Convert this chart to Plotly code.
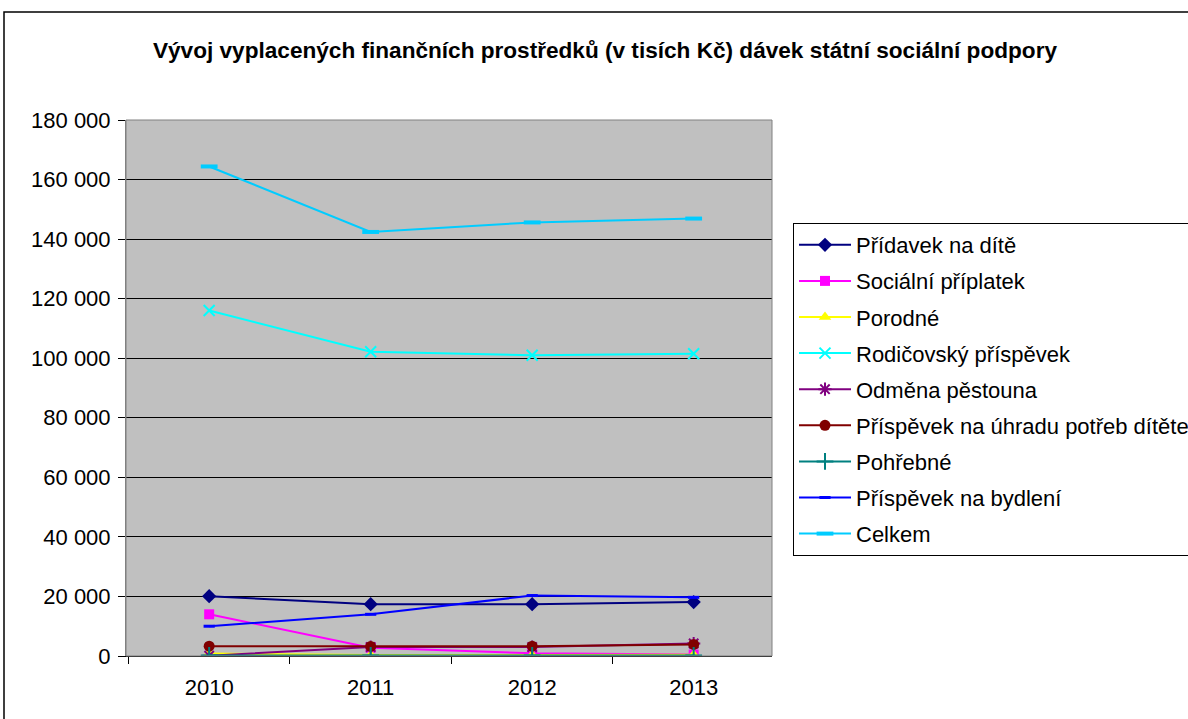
import plotly.graph_objects as go

years = ["2010", "2011", "2012", "2013"]

pridavek = [20100, 17400, 17400, 18100]
socialni = [14000, 2800, 900, 500]
porodne = [800, 300, 300, 400]
rodicovsky = [116000, 102200, 101000, 101500]
odmena = [100, 3000, 3000, 4200]
uhrada = [3300, 3200, 3300, 3900]
pohrebne = [200, 200, 200, 200]
bydleni = [10000, 14000, 20300, 19700]
celkem = [164400, 142400, 145600, 146900]

series = [
    ("Přídavek na dítě", pridavek, "#000080", "diamond", 11, 0),
    ("Sociální příplatek", socialni, "#FF00FF", "square", 10, 0),
    ("Porodné", porodne, "#FFFF00", "triangle-up", 11, 0),
    ("Rodičovský příspěvek", rodicovsky, "#00FFFF", "x-thin-open", 11, 2),
    ("Odměna pěstouna", odmena, "#800080", "asterisk-open", 11, 2),
    ("Příspěvek na úhradu potřeb dítěte", uhrada, "#800000", "circle", 11, 0),
    ("Pohřebné", pohrebne, "#008080", "cross-thin-open", 12, 2),
    ("Příspěvek na bydlení", bydleni, "#0000FF", "line-ew-open", 8, 3),
    ("Celkem", celkem, "#00CCFF", "line-ew-open", 12, 4),
]

fig = go.Figure()
for name, vals, color, sym, size, lw in series:
    marker = dict(symbol=sym, size=size, color=color)
    if lw:
        marker["line"] = dict(color=color, width=lw)
    fig.add_trace(go.Scatter(
        x=years, y=vals, name=name, legendgroup=name, mode="lines+markers",
        line=dict(color=color, width=2), marker=marker,
    ))

L, R, T, B = 126, 772, 120, 656
W, H = 1188, 719
pw, ph = R - L, B - T

def px_x(v):
    return (v - L) / pw

def px_y(v):
    return (B - v) / ph

fig.update_layout(
    width=W, height=H,
    margin=dict(l=L, r=W - R, t=T, b=H - B, pad=0, autoexpand=False),
    paper_bgcolor="white",
    plot_bgcolor="#C0C0C0",
    separators=", ",
    font=dict(family="Liberation Sans, Arial, sans-serif", size=22, color="black"),
    title=dict(
        text="<b>Vývoj vyplacených finančních prostředků (v tisích Kč) dávek státní sociální podpory</b>",
        x=605 / W, xanchor="center", xref="container",
        y=1 - 50 / H, yanchor="middle", yref="container",
        font=dict(size=22.6, color="black"),
    ),
    xaxis=dict(
        type="category", showgrid=False, ticks="outside", tickson="boundaries",
        ticklen=7, tickcolor="black", showline=True, linecolor="black", linewidth=1,
        tickfont=dict(size=22), range=[-0.515, 3.485], zeroline=False,
        ticklabelstandoff=12,
    ),
    yaxis=dict(
        range=[0, 180000], dtick=20000, tickformat=",d", showgrid=True,
        gridcolor="black", gridwidth=1, ticks="outside", ticklen=7, tickcolor="black",
        showline=True, linecolor="#808080", linewidth=1, zeroline=False,
        tickfont=dict(size=22), ticklabelstandoff=3,
    ),
    legend=dict(
        x=px_x(793), y=px_y(223), xanchor="left", yanchor="top",
        bordercolor="black", borderwidth=1, bgcolor="white",
        font=dict(size=22), itemwidth=52, tracegroupgap=4.5,
    ),
    showlegend=True,
    shapes=[
        dict(type="rect", xref="paper", yref="paper",
             x0=px_x(4), x1=px_x(1200), y0=px_y(730), y1=px_y(12),
             line=dict(color="black", width=1.5), fillcolor="rgba(0,0,0,0)", layer="below"),
        dict(type="rect", xref="paper", yref="paper",
             x0=0, x1=1, y0=0, y1=1,
             line=dict(color="#808080", width=1), fillcolor="rgba(0,0,0,0)", layer="above"),
    ],
)

fig.write_html(
    "out.html",
    config={"displayModeBar": False},
    post_script="document.body.style.margin='0';document.body.style.overflow='hidden';",
)
